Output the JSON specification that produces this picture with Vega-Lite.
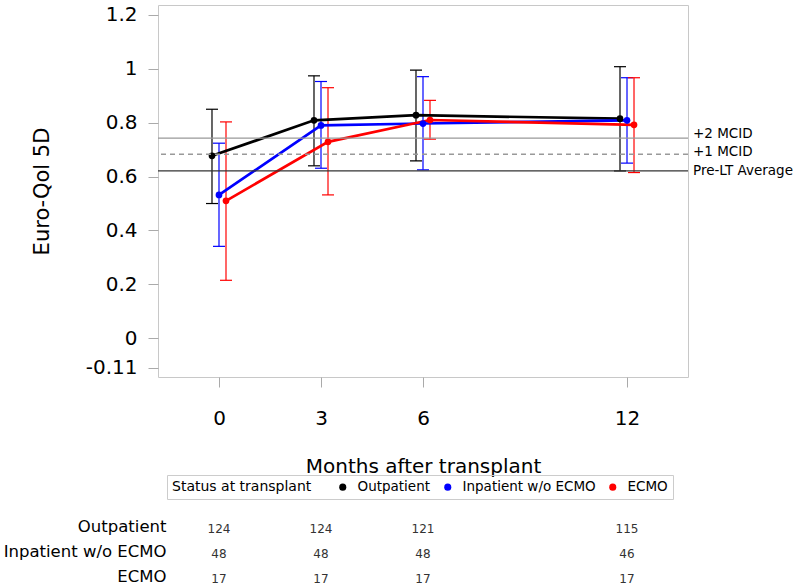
{
  "$schema": "https://vega.github.io/schema/vega-lite/v6.json",
  "padding": {"left": 3, "top": 4, "right": 0, "bottom": 0},
  "config": {"font": "DejaVu Sans", "view": {"stroke": null}},
  "spacing": 18,
  "datasets": {
    "qol": [
      {"group": "Outpatient", "month": 0, "mean": 0.677, "lo": 0.5, "hi": 0.85, "n": 124},
      {"group": "Outpatient", "month": 3, "mean": 0.809, "lo": 0.64, "hi": 0.974, "n": 124},
      {"group": "Outpatient", "month": 6, "mean": 0.828, "lo": 0.658, "hi": 0.995, "n": 121},
      {"group": "Outpatient", "month": 12, "mean": 0.815, "lo": 0.621, "hi": 1.008, "n": 115},
      {"group": "Inpatient w/o ECMO", "month": 0, "mean": 0.532, "lo": 0.341, "hi": 0.724, "n": 48},
      {"group": "Inpatient w/o ECMO", "month": 3, "mean": 0.79, "lo": 0.631, "hi": 0.953, "n": 48},
      {"group": "Inpatient w/o ECMO", "month": 6, "mean": 0.797, "lo": 0.625, "hi": 0.971, "n": 48},
      {"group": "Inpatient w/o ECMO", "month": 12, "mean": 0.809, "lo": 0.65, "hi": 0.967, "n": 46},
      {"group": "ECMO", "month": 0, "mean": 0.51, "lo": 0.215, "hi": 0.803, "n": 17},
      {"group": "ECMO", "month": 3, "mean": 0.729, "lo": 0.532, "hi": 0.93, "n": 17},
      {"group": "ECMO", "month": 6, "mean": 0.81, "lo": 0.739, "hi": 0.883, "n": 17},
      {"group": "ECMO", "month": 12, "mean": 0.792, "lo": 0.615, "hi": 0.967, "n": 17}
    ]
  },
  "vconcat": [
    {
      "width": 530,
      "height": 372,
      "view": {"stroke": "#c8c8c8"},
      "encoding": {
        "y": {
          "type": "quantitative",
          "scale": {"domain": [-0.144, 1.237], "nice": false, "zero": false},
          "axis": {
            "values": [-0.11, 0, 0.2, 0.4, 0.6, 0.8, 1, 1.2], "grid": false, "domain": false,
            "labelExpr": "replace(format(datum.value, '~g'), '\u2212', '-')",
            "tickColor": "#aaaaaa", "tickSize": 10, "labelFontSize": 20, "labelPadding": 11,
            "labelColor": "#000000", "title": "Euro-Qol 5D", "titleFontSize": 21,
            "titleFontWeight": "normal", "titlePadding": 33, "titleColor": "#000000"
          }
        }
      },
      "layer": [
        {
          "data": {"name": "qol"},
          "transform": [
            {"calculate": "datum.month + (datum.group === 'Outpatient' ? -0.206 : (datum.group === 'ECMO' ? 0.206 : 0))", "as": "xpos"}
          ],
          "encoding": {
            "x": {
              "field": "xpos", "type": "quantitative",
              "scale": {"domain": [-1.794, 13.794], "nice": false, "zero": false},
              "axis": {
                "values": [0, 3, 6, 12], "grid": false, "domain": false,
                "tickColor": "#aaaaaa", "tickSize": 10, "labelFontSize": 20, "labelPadding": 21,
                "labelColor": "#000000", "title": "Months after transplant", "titleFontSize": 20,
                "titleFontWeight": "normal", "titlePadding": 28, "titleColor": "#000000"
              }
            }
          },
          "layer": [
            {
              "mark": {"type": "rule", "strokeWidth": 1.2},
              "encoding": {
                "y": {"field": "lo", "type": "quantitative"},
                "y2": {"field": "hi"},
                "stroke": {"field": "group", "type": "nominal", "scale": {"domain": ["Outpatient", "Inpatient w/o ECMO", "ECMO"], "range": ["#000000", "#0000ff", "#ff0000"]}, "legend": null}
              }
            },
            {
              "mark": {"type": "tick", "orient": "horizontal", "size": 12, "thickness": 1.2, "opacity": 1},
              "encoding": {
                "y": {"field": "lo", "type": "quantitative"},
                "fill": {"field": "group", "type": "nominal", "scale": {"domain": ["Outpatient", "Inpatient w/o ECMO", "ECMO"], "range": ["#000000", "#0000ff", "#ff0000"]}, "legend": null}
              }
            },
            {
              "mark": {"type": "tick", "orient": "horizontal", "size": 12, "thickness": 1.2, "opacity": 1},
              "encoding": {
                "y": {"field": "hi", "type": "quantitative"},
                "fill": {"field": "group", "type": "nominal", "scale": {"domain": ["Outpatient", "Inpatient w/o ECMO", "ECMO"], "range": ["#000000", "#0000ff", "#ff0000"]}, "legend": null}
              }
            },
            {
              "mark": {"type": "line", "strokeWidth": 2.7},
              "encoding": {
                "y": {"field": "mean", "type": "quantitative"},
                "stroke": {"field": "group", "type": "nominal", "scale": {"domain": ["Outpatient", "Inpatient w/o ECMO", "ECMO"], "range": ["#000000", "#0000ff", "#ff0000"]}, "legend": null},
                "detail": {"field": "group"}
              }
            },
            {
              "mark": {"type": "point", "filled": true, "size": 45, "opacity": 1},
              "encoding": {
                "y": {"field": "mean", "type": "quantitative"},
                "color": {
                  "field": "group", "type": "nominal",
                  "scale": {"domain": ["Outpatient", "Inpatient w/o ECMO", "ECMO"], "range": ["#000000", "#0000ff", "#ff0000"]},
                  "legend": {
                    "orient": "none", "legendX": 9, "legendY": 470, "direction": "horizontal",
                    "title": "Status at transplant", "titleOrient": "left", "titleFontSize": 14,
                    "titleFontWeight": "normal", "titlePadding": 24, "titleColor": "#000000",
                    "labelFontSize": 13.5, "labelColor": "#000000", "symbolType": "circle", "symbolSize": 50,
                    "symbolStrokeWidth": 0, "columnPadding": 10, "labelOffset": 8,
                    "strokeColor": "#cccccc", "padding": 5
                  }
                }
              }
            }
          ]
        },
        {"data": {"values": [{}]}, "mark": {"type": "rule", "color": "#999999", "strokeWidth": 1.3}, "encoding": {"y": {"datum": 0.743}}},
        {"data": {"values": [{}]}, "mark": {"type": "rule", "color": "#999999", "strokeWidth": 1.3, "strokeDash": [5, 4]}, "encoding": {"y": {"datum": 0.683}}},
        {"data": {"values": [{}]}, "mark": {"type": "rule", "color": "#333333", "strokeWidth": 1.3}, "encoding": {"y": {"datum": 0.621}}},
        {"data": {"values": [{}]}, "mark": {"type": "text", "align": "left", "baseline": "middle", "dx": 5, "dy": -4, "fontSize": 13.5, "color": "#000000"}, "encoding": {"x": {"datum": 13.794}, "y": {"datum": 0.743}, "text": {"value": "+2 MCID"}}},
        {"data": {"values": [{}]}, "mark": {"type": "text", "align": "left", "baseline": "middle", "dx": 5, "dy": -2, "fontSize": 13.5, "color": "#000000"}, "encoding": {"x": {"datum": 13.794}, "y": {"datum": 0.683}, "text": {"value": "+1 MCID"}}},
        {"data": {"values": [{}]}, "mark": {"type": "text", "align": "left", "baseline": "middle", "dx": 5, "dy": 0, "fontSize": 13.5, "color": "#000000"}, "encoding": {"x": {"datum": 13.794}, "y": {"datum": 0.621}, "text": {"value": "Pre-LT Average"}}}
      ]
    },
    {
      "width": 530,
      "height": 50,
      "data": {"name": "qol"},
      "mark": {"type": "text", "fontSize": 12, "color": "#333333", "baseline": "middle", "dy": 3},
      "encoding": {
        "x": {"field": "month", "type": "quantitative", "scale": {"domain": [-1.794, 13.794], "nice": false, "zero": false}, "axis": null},
        "y": {
          "field": "group", "type": "nominal",
          "scale": {"type": "point", "domain": ["Outpatient", "Inpatient w/o ECMO", "ECMO"], "padding": 0},
          "axis": {"title": null, "domain": false, "ticks": false, "tickSize": 0, "labelPadding": -8, "labelFontSize": 16.5, "labelColor": "#000000"}
        },
        "text": {"field": "n", "type": "quantitative"}
      }
    }
  ],
  "resolve": {"legend": {"color": "independent"}, "scale": {"x": "independent"}}
}
